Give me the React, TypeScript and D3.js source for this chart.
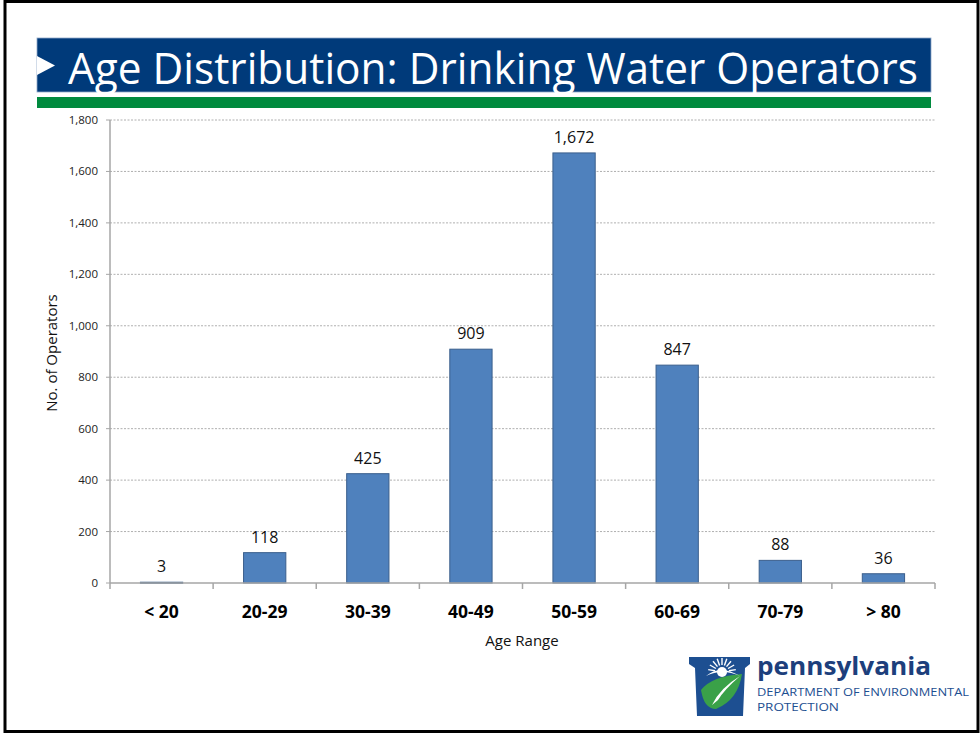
import React from 'react';
import * as d3 from 'd3';

// chart data
const ageRanges = ['< 20', '20-29', '30-39', '40-49', '50-59', '60-69', '70-79', '> 80'];
const operatorCounts = [3, 118, 425, 909, 1672, 847, 88, 36];
const yTicks = [0, 200, 400, 600, 800, 1000, 1200, 1400, 1600, 1800];

const titleText = 'Age Distribution: Drinking Water Operators';
const yTitle = 'No. of Operators';
const xTitle = 'Age Range';

const FONT = "'Open Sans', 'Noto Sans', sans-serif";

const W = 980;
const H = 733;
const margin = { left: 110, right: 45, top: 120, bottom: 150 };

const App: React.FC = () => {
  const x = d3.scaleBand()
    .domain(ageRanges)
    .range([margin.left, W - margin.right])
    .paddingInner(0.59)
    .paddingOuter(0.295);

  const y = d3.scaleLinear()
    .domain([0, 1800])
    .range([H - margin.bottom, margin.top]);

  const fmt = d3.format(',');
  const step = x.step();
  const bandEdges = d3.range(ageRanges.length + 1).map(i => margin.left + i * step);
  const x0 = margin.left;
  const x1 = W - margin.right;
  const yBase = y(0);

  return (
    <svg width={W} height={H} style={{ position: 'absolute', left: 0, top: 0, background: '#fff' }} fontFamily={FONT}>
      {/* slide frame */}
      <rect x={5} y={1.5} width={973} height={730} fill="none" stroke="#000" strokeWidth={3} />

      {/* header band */}
      <rect x={37} y={38} width={894} height={54} fill="#003a7a" stroke="#8fa8c8" strokeWidth={0.8} />
      <polygon points="37,56 55,65.5 37,75" fill="#fff" />
      <rect x={37} y={97} width={894} height={11} fill="#008a3e" />
      <text x={68} y={84} fontSize={44} fill="#fff" textLength={850} lengthAdjust="spacingAndGlyphs">{titleText}</text>

      {/* gridlines */}
      {yTicks.filter(t => t > 0).map(t => (
        <line key={'g' + t} x1={x0} x2={x1} y1={y(t)} y2={y(t)} stroke="#9a9a9a" strokeWidth={0.8} strokeDasharray="2,1.5" />
      ))}

      {/* bars */}
      {ageRanges.map((c, i) => {
        const bx = x(c) ?? 0;
        const by = y(operatorCounts[i]);
        return (
          <g key={c}>
            <rect x={bx} y={by} width={x.bandwidth()} height={Math.max(1, yBase - by)} fill="#4f81bd" stroke="#3b5f8c" strokeWidth={1} />
            <text x={bx + x.bandwidth() / 2} y={by - 10} textAnchor="middle" fontSize={16} fill="#111">{fmt(operatorCounts[i])}</text>
          </g>
        );
      })}

      {/* axes */}
      <line x1={x0} x2={x0} y1={margin.top} y2={yBase} stroke="#a6a6a6" strokeWidth={1.5} />
      <line x1={x0} x2={x1} y1={yBase} y2={yBase} stroke="#a6a6a6" strokeWidth={1.5} />
      {bandEdges.map((e, i) => (
        <line key={'t' + i} x1={e} x2={e} y1={yBase} y2={yBase + 6} stroke="#a6a6a6" strokeWidth={1.5} />
      ))}
      {yTicks.map(t => (
        <g key={'y' + t}>
          <line x1={x0 - 4} x2={x0} y1={y(t)} y2={y(t)} stroke="#a6a6a6" strokeWidth={1} />
          <text x={x0 - 12} y={y(t) + 4} textAnchor="end" fontSize={11.5} fill="#222">{fmt(t)}</text>
        </g>
      ))}
      {ageRanges.map(c => (
        <text key={'x' + c} x={(x(c) ?? 0) + x.bandwidth() / 2} y={618} textAnchor="middle" fontSize={17.5} fontWeight="bold" fill="#000">{c}</text>
      ))}
      <text x={522} y={646} textAnchor="middle" fontSize={15} fill="#111">{xTitle}</text>
      <text transform="translate(57,353) rotate(-90)" textAnchor="middle" fontSize={15} fill="#111">{yTitle}</text>

      {/* agency logo */}
      <g>
        <polygon points="689,657 750,657 750,664 745,668 743,716 697,716 695,668 689,664" fill="#1d4f91" />
        <path d="M701,690 Q712,676 742,674 Q738,700 716,709 Q704,709 701,690 Z" fill="#3aa148" />
        <path d="M712,705 Q720,688 740,676 Q724,690 718,700 Z" fill="#fff" />
        <path d="M706,676 Q720,664 740,676 Q722,668 706,676 Z" fill="#fff" />
        <circle cx={722} cy={672} r={5} fill="#fff" />
        {d3.range(9).map(i => {
          const a = Math.PI + (i + 0.5) * Math.PI / 9;
          return <line key={'r' + i} x1={722 + Math.cos(a) * 7} y1={672 + Math.sin(a) * 7} x2={722 + Math.cos(a) * 14} y2={672 + Math.sin(a) * 14} stroke="#fff" strokeWidth={1.4} />;
        })}
        <text x={757} y={675} fontSize={25} fontWeight="bold" fill="#1d3f7c" textLength={174} lengthAdjust="spacingAndGlyphs">pennsylvania</text>
        <text x={757} y={696} fontSize={11.5} fill="#1d4f91" textLength={212} lengthAdjust="spacingAndGlyphs">DEPARTMENT OF ENVIRONMENTAL</text>
        <text x={757} y={711} fontSize={11.5} fill="#1d4f91" textLength={82} lengthAdjust="spacingAndGlyphs">PROTECTION</text>
      </g>
    </svg>
  );
};

export default App;
